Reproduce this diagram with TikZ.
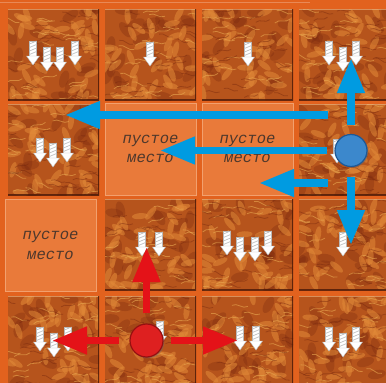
\documentclass[tikz,border=0pt]{standalone}
\usepackage{fontspec}
\newfontfamily\emptyfont{Liberation Mono}
\usetikzlibrary{arrows.meta,shadows}
\definecolor{bgorange}{RGB}{226,98,30}
\definecolor{emptyfill}{RGB}{233,122,58}
\definecolor{emptyline}{RGB}{242,160,110}
\definecolor{tilebase}{RGB}{182,84,28}
\definecolor{tiledark}{RGB}{120,40,14}
\definecolor{tilelight}{RGB}{226,138,56}
\definecolor{tileyellow}{RGB}{232,168,80}
\definecolor{arrowblue}{RGB}{0,155,225}
\definecolor{arrowred}{RGB}{228,18,24}
\definecolor{dotblue}{RGB}{60,136,204}
\definecolor{dotbluerim}{RGB}{30,88,150}
\definecolor{dotred}{RGB}{222,32,32}
\definecolor{dotredrim}{RGB}{150,16,16}
\definecolor{txtgray}{RGB}{78,56,44}
\newcommand\tileat[2]{%
  \begin{scope}
    \clip (#1,#2) rectangle ++(91,91);
    \fill[tilebase] (#1,#2) rectangle ++(91,91);
    \foreach \k in {1,...,22}{%
      \pgfmathsetmacro\px{#1+rnd*91}%
      \pgfmathsetmacro\py{#2+rnd*91}%
      \pgfmathsetmacro\ang{rnd*180}%
      \fill[tiledark,opacity=0.3,rotate around={\ang:(\px,\py)}] (\px,\py) ellipse (9 and 4.5);
    }
    \foreach \k in {1,...,40}{%
      \pgfmathsetmacro\px{#1+rnd*91}%
      \pgfmathsetmacro\py{#2+rnd*91}%
      \pgfmathsetmacro\ang{rnd*180}%
      \fill[tilelight,opacity=0.55,rotate around={\ang:(\px,\py)}] (\px,\py) ellipse (8 and 3);
    }
    \foreach \k in {1,...,22}{%
      \pgfmathsetmacro\px{#1+rnd*91}%
      \pgfmathsetmacro\py{#2+rnd*91}%
      \pgfmathsetmacro\ang{rnd*40-20}%
      \draw[tileyellow,opacity=0.6,line width=0.8,rotate around={\ang:(\px,\py)}]
        (\px-8,\py) .. controls (\px-3,\py-3.5) and (\px+3,\py+3.5) .. (\px+8,\py);
    }
    \foreach \k in {1,...,25}{%
      \pgfmathsetmacro\px{#1+rnd*91}%
      \pgfmathsetmacro\py{#2+rnd*91}%
      \pgfmathsetmacro\ang{rnd*40-20}%
      \draw[tiledark,opacity=0.45,line width=0.8,rotate around={\ang:(\px,\py)}]
        (\px-7,\py) .. controls (\px-2,\py-3) and (\px+2,\py+3) .. (\px+7,\py);
    }
    \draw[tilelight!60!white,opacity=0.6,line width=1.2] (#1,#2) -- (#1+91,#2);
    \draw[tiledark!60!black,opacity=0.8,line width=2.4] (#1+91,#2) -- (#1+91,#2+91) -- (#1,#2+91);
  \end{scope}
}
\newcommand\drillat[2]{%
  \fill[white,draw=gray!55,line width=0.4] (#1-3.5,#2-24) rectangle (#1+3.5,#2-8);
  \foreach \s in {0,3.5,7,10.5}{%
    \draw[gray!50,line width=0.7] (#1-3.5,#2-21+\s) -- (#1+3.5,#2-24+\s);
  }
  \fill[white,draw=gray!55,line width=0.4] (#1-6.5,#2-9) -- (#1+6.5,#2-9) -- (#1,#2) -- cycle;
}
\begin{document}
\begin{tikzpicture}[x=1pt,y=-1pt,
  emptybox/.style={minimum width=91pt,minimum height=92pt,inner sep=0pt,
    fill=emptyfill,draw=emptyline,line width=0.8pt,
    font=\emptyfont\itshape\fontsize{15.5}{19.5}\selectfont,text=txtgray,align=center},
  bluedot/.style={circle,minimum size=32pt,inner sep=0pt,fill=dotblue,draw=dotbluerim,line width=1.2pt,
    drop shadow={shadow xshift=1.2pt,shadow yshift=-1.2pt,opacity=0.5,fill=black!60}},
  reddot/.style={circle,minimum size=33pt,inner sep=0pt,fill=dotred,draw=dotredrim,line width=1.2pt,
    drop shadow={shadow xshift=1.2pt,shadow yshift=-1.2pt,opacity=0.5,fill=black!60}},
  bluearrow/.style={draw=arrowblue,line width=7.5pt,-{Triangle[length=35pt,width=26pt]}},
  redarrow/.style={draw=arrowred,line width=7.5pt,-{Triangle[length=35pt,width=26pt]}}]
\useasboundingbox (0,0) rectangle (386,383);
\fill[bgorange] (0,0) rectangle (386,383);
\draw[white,opacity=0.25,line width=0.8] (0,2) -- (310,2);
\pgfmathsetseed{12}
% tiles
\tileat{8}{9}\tileat{105}{9}\tileat{202}{9}\tileat{299}{9}
\tileat{8}{104}\tileat{299}{104}
\tileat{105}{199}\tileat{202}{199}\tileat{299}{199}
\tileat{8}{296}\tileat{105}{296}\tileat{202}{296}\tileat{299}{296}
% empty places
\node[emptybox] (e1) at (150.5,149) {пустое\\место};
\node[emptybox] (e2) at (247.5,149) {пустое\\место};
\node[emptybox] (e3) at (50.5,245.5) {пустое\\место};
% drill arrows
\drillat{33}{65}\drillat{47}{71}\drillat{60}{71}\drillat{75}{65}
\drillat{150}{66}
\drillat{248}{66}
\drillat{329}{65}\drillat{343}{71}\drillat{356}{65}
\drillat{40}{162}\drillat{53}{167}\drillat{67}{162}
\drillat{337}{163}
\drillat{142}{256}\drillat{159}{256}
\drillat{227}{255}\drillat{240}{261}\drillat{255}{261}\drillat{268}{255}
\drillat{343}{256}
\drillat{40}{351}\drillat{54}{357}\drillat{68}{351}
\drillat{160}{345}
\drillat{240}{350}\drillat{256}{350}
\drillat{329}{351}\drillat{343}{357}\drillat{356}{351}
% markers
\node[bluedot] (b) at (351,150.5) {};
\node[reddot] (r) at (146.5,340.5) {};
\coordinate (bU) at (351,58);
\coordinate (bD) at (351,245);
\coordinate (bL) at (160,150.5);
\coordinate (bTs) at (328,115);
\coordinate (bTe) at (65,115);
\coordinate (bBs) at (328,183);
\coordinate (bBe) at (259,183);
\coordinate (rU) at (146.5,247);
\coordinate (rL) at (52,340.5);
\coordinate (rR) at (238,340.5);
\draw[bluearrow,shorten <=9pt] (b) -- (bU);
\draw[bluearrow,shorten <=10pt] (b) -- (bD);
\draw[bluearrow,shorten <=7pt] (b) -- (bL);
\draw[bluearrow] (bTs) -- (bTe);
\draw[bluearrow] (bBs) -- (bBe);
\draw[redarrow,shorten <=10pt] (r) -- (rU);
\draw[redarrow,shorten <=10pt] (r) -- (rL);
\draw[redarrow,shorten <=7pt] (r) -- (rR);
\end{tikzpicture}
\end{document}
